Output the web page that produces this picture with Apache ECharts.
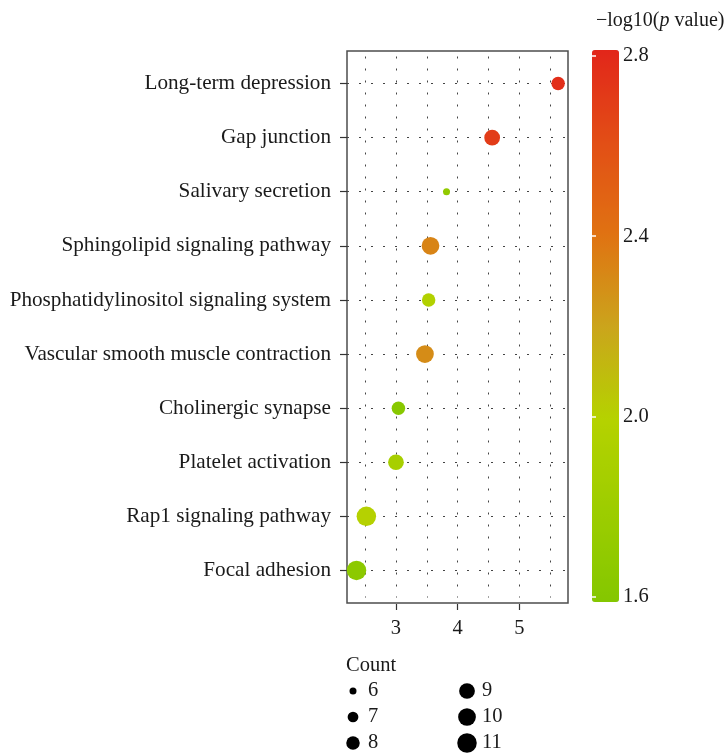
<!DOCTYPE html>
<html>
<head>
<meta charset="utf-8">
<script src="https://cdn.jsdelivr.net/npm/echarts@6/dist/echarts.min.js"></script>
<style>html,body{margin:0;padding:0;background:#fff;}#c{width:728px;height:755px;}</style>
</head>
<body>
<div id="c"></div>
<script>
const categories = ['Long-term depression','Gap junction','Salivary secretion','Sphingolipid signaling pathway','Phosphatidylinositol signaling system','Vascular smooth muscle contraction','Cholinergic synapse','Platelet activation','Rap1 signaling pathway','Focal adhesion'];
const xValues = [5.63, 4.56, 3.82, 3.56, 3.53, 3.47, 3.04, 3.00, 2.52, 2.36];
const logP = [2.77, 2.70, 1.70, 2.33, 1.97, 2.30, 1.62, 1.88, 2.00, 1.65];
const counts = [8, 9, 6, 10, 8, 10, 8, 9, 11, 11];
const xTicks = [3, 4, 5];
const xGridLines = [2.5, 3, 3.5, 4, 4.5, 5, 5.5];
const colorTicks = [1.6, 2.0, 2.4, 2.8];
const legendCounts = [6, 7, 8, 9, 10, 11];
const legendCols = ['c1', 'c2'];
const legendRows = ['r1', 'r2', 'r3'];

const FONT = 'Liberation Serif';
const TXT = '#1a1a1a';
function sizeOf(c) { return Math.sqrt(Math.max(4, -348.2 + 66.2 * c)); }

const mainData = categories.map((c, i) => [xValues[i], c, logP[i], counts[i]]);
const legendData = legendCounts.map((c, i) => [legendCols[Math.floor(i / 3)], legendRows[i % 3], c]);

const chart = echarts.init(document.getElementById('c'), null, {renderer: 'canvas'});
const gridLineStyle = {type: [2, 10], color: '#444', width: 1};

chart.setOption({
  animation: false,
  backgroundColor: '#fff',
  textStyle: {fontFamily: FONT, color: TXT},
  title: [
    {
      text: '{a|\u2212log10(}{b|p}{a| value)}',
      left: 591, top: 6,
      textStyle: {fontWeight: 'normal', rich: {
        a: {fontFamily: FONT, fontSize: 20, color: TXT, fontWeight: 'normal'},
        b: {fontFamily: FONT, fontSize: 20, color: TXT, fontStyle: 'italic', fontWeight: 'normal'}
      }}
    },
    {
      text: 'Count', left: 341, top: 650,
      textStyle: {fontFamily: FONT, fontSize: 20.5, fontWeight: 'normal', color: TXT}
    }
  ],
  grid: [
    {left: 347, top: 51, width: 221, height: 552, show: true, borderColor: '#4d4d4d', borderWidth: 1.5, backgroundColor: 'transparent'},
    {left: 347, top: 56.5, width: 221, height: 541, show: false},
    {left: 592, top: 55.7, width: 27, height: 541.3, show: false},
    {left: 353, top: 691, width: 114, height: 52, show: false}
  ],
  xAxis: [
    {gridIndex: 0, type: 'value', min: 2.206, max: 5.79, show: false},
    {gridIndex: 1, type: 'value', min: 2.206, max: 5.79, position: 'bottom', offset: 6.5,
      axisLine: {show: false},
      splitLine: {show: false},
      axisTick: {show: true, length: 6, lineStyle: {color: '#333', width: 1.2}, customValues: xTicks},
      axisLabel: {customValues: xTicks, fontFamily: FONT, fontSize: 20.5, color: TXT, margin: 14}
    },
    {gridIndex: 2, type: 'value', show: false},
    {gridIndex: 3, type: 'category', data: legendCols, boundaryGap: false, show: false}
  ],
  yAxis: [
    {gridIndex: 0, type: 'value', show: false},
    {gridIndex: 1, type: 'category', data: categories, inverse: true,
      axisLine: {show: false},
      axisTick: {show: true, length: 7, alignWithLabel: true, lineStyle: {color: '#333', width: 1.2}},
      axisLabel: {fontFamily: FONT, fontSize: 21.2, color: TXT, margin: 16},
      splitLine: {show: false}
    },
    {gridIndex: 2, type: 'value', min: 1.6, max: 2.8, interval: 0.4, position: 'right', z: 10,
      axisLine: {show: false}, splitLine: {show: false},
      axisTick: {show: true, inside: true, length: 4, lineStyle: {color: '#fff', width: 1.5}},
      axisLabel: {fontFamily: FONT, fontSize: 20.5, color: TXT, margin: 4, formatter: v => v.toFixed(1)}
    },
    {gridIndex: 2, type: 'value', min: 1.6, max: 2.8, interval: 0.4, position: 'left', z: 10,
      axisLine: {show: false}, splitLine: {show: false},
      axisTick: {show: true, inside: true, length: 4, lineStyle: {color: '#fff', width: 1.5}},
      axisLabel: {show: false}
    },
    {gridIndex: 3, type: 'category', data: legendRows, boundaryGap: false, inverse: true, show: false}
  ],
  visualMap: [{
    type: 'continuous',
    show: true,
    seriesIndex: 0,
    dimension: 2,
    min: 1.587, max: 2.813,
    calculable: false,
    text: null,
    showLabel: false,
    left: 592, top: 50,
    itemWidth: 27, itemHeight: 552,
    padding: 0,
    inRange: {color: ['#84C700', '#9DCD00', '#B5D200', '#CBA41C', '#E07212', '#E24E16', '#E2261A']}
  }],
  series: [
    {
      type: 'scatter', xAxisIndex: 1, yAxisIndex: 1, z: 10,
      data: mainData,
      symbolSize: d => sizeOf(d[3]),
      itemStyle: {opacity: 1}
    },
    {
      type: 'scatter', xAxisIndex: 1, yAxisIndex: 1, z: 1,
      data: [], silent: true,
      markLine: {
        z: 1, silent: true, symbol: ['none', 'none'], label: {show: false},
        lineStyle: gridLineStyle,
        emphasis: {disabled: true},
        data: xGridLines.map(v => ({xAxis: v})).concat(categories.map(c => ({yAxis: c})))
      }
    },
    {
      type: 'scatter', xAxisIndex: 3, yAxisIndex: 4,
      data: legendData,
      symbolSize: d => sizeOf(d[2]),
      itemStyle: {color: '#000', opacity: 1},
      label: {show: true, position: 'inside', align: 'left', offset: [15, 0],
        formatter: p => String(p.data[2]), fontFamily: FONT, fontSize: 20.5, color: TXT}
    }
  ]
});
</script>
</body>
</html>
